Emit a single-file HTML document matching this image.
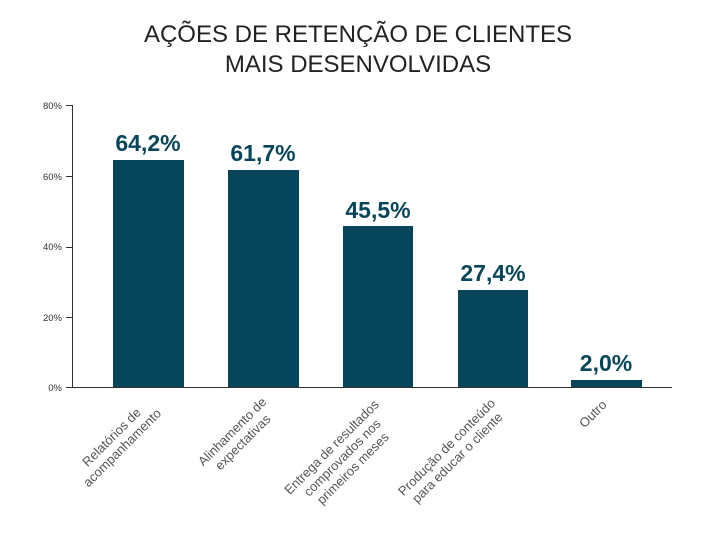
<!DOCTYPE html>
<html><head><meta charset="utf-8"><style>
html,body{margin:0;padding:0;background:#fff;width:706px;height:533px;overflow:hidden}
</style></head><body>
<svg width="706" height="533" xmlns="http://www.w3.org/2000/svg" font-family="Liberation Sans, sans-serif">
<text x="358" y="42" text-anchor="middle" font-size="24" fill="#222">AÇÕES DE RETENÇÃO DE CLIENTES</text>
<text x="358" y="72" text-anchor="middle" font-size="24" fill="#222">MAIS DESENVOLVIDAS</text>
<g font-size="9.5" fill="#333" text-anchor="end">
<text x="62" y="109">80%</text><text x="62" y="180">60%</text><text x="62" y="250">40%</text><text x="62" y="321">20%</text><text x="62" y="391">0%</text>
</g>
<g stroke="#333" stroke-width="1">
<line x1="66" y1="105.5" x2="72" y2="105.5"/><line x1="66" y1="176.5" x2="72" y2="176.5"/><line x1="66" y1="247.5" x2="72" y2="247.5"/><line x1="66" y1="317.5" x2="72" y2="317.5"/>
<line x1="72.5" y1="105" x2="72.5" y2="387"/>
</g>
<g fill="#07465a">
<rect x="113" y="160" width="71" height="227"/>
<rect x="228" y="170" width="71" height="217"/>
<rect x="343" y="226" width="70" height="161"/>
<rect x="458" y="290" width="70" height="97"/>
<rect x="571" y="380" width="71" height="7"/>
</g>
<line x1="66" y1="387.5" x2="672" y2="387.5" stroke="#333"/>
<g font-size="23" font-weight="bold" fill="#07465a" text-anchor="middle">
<text x="148" y="151">64,2%</text><text x="263" y="161">61,7%</text><text x="378" y="218">45,5%</text><text x="493" y="281">27,4%</text><text x="606" y="371">2,0%</text>
</g>
<g font-size="13" fill="#555" text-anchor="middle">
<g transform="translate(150,405) rotate(-45)"><text x="-50" y="0">Relatórios de</text><text x="-50" y="15">acompanhamento</text></g>
<g transform="translate(265,405) rotate(-45)"><text x="-42" y="0">Alinhamento de</text><text x="-42" y="15">expectativas</text></g>
<g transform="translate(380,405) rotate(-45)"><text x="-64" y="0">Entrega de resultados</text><text x="-64" y="15">comprovados nos</text><text x="-64" y="30">primeiros meses</text></g>
<g transform="translate(495,405) rotate(-45)"><text x="-64" y="0">Produção de conteúdo</text><text x="-64" y="15">para educar o cliente</text></g>
<g transform="translate(608,405) rotate(-45)"><text x="-17" y="0">Outro</text></g>
</g>
</svg>
</body></html>
